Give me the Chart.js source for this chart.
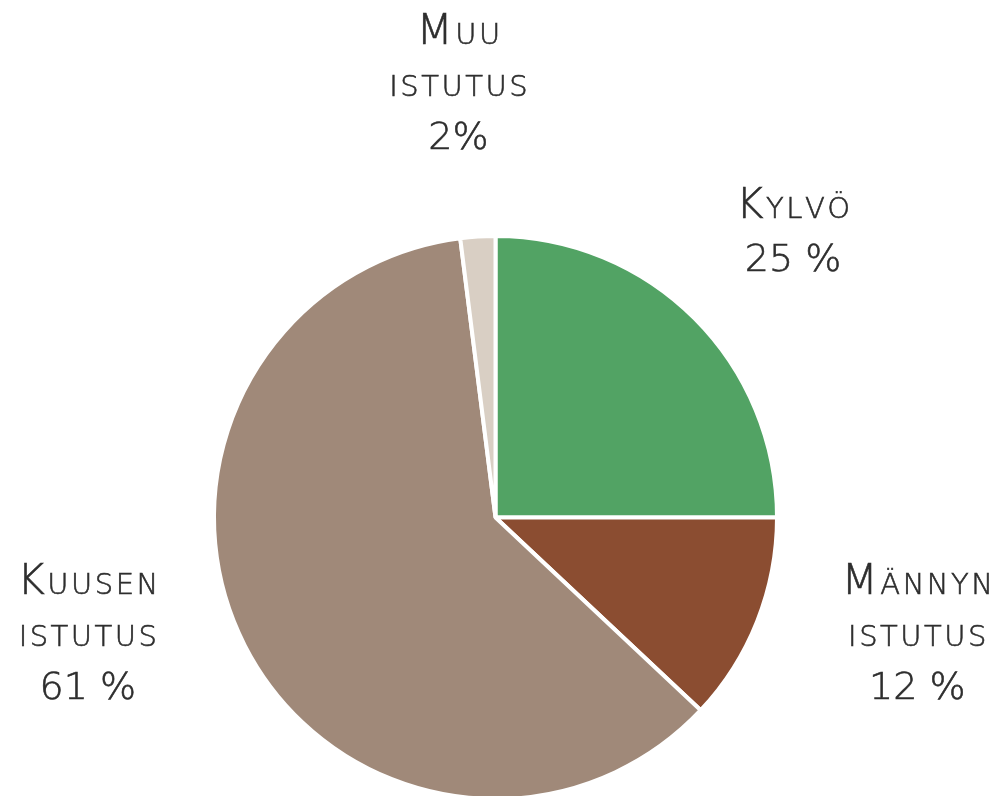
<!DOCTYPE html>
<html>
<head>
<meta charset="utf-8">
<script src="https://cdn.jsdelivr.net/npm/chart.js@4/dist/chart.umd.min.js"></script>
<style>
  html, body { margin: 0; padding: 0; background: #ffffff; overflow: hidden; }
  #wrap { width: 1001px; height: 840px; }
</style>
</head>
<body>
<div id="wrap"><canvas id="c" width="1001" height="840"></canvas></div>
<script>
// ---- data ----
const categories = ["Kylvö", "Männyn istutus", "Kuusen istutus", "Muu istutus"];
const shares = [25, 12, 61, 2];
const shareLabels = ["25 %", "12 %", "61 %", "2%"];
const sliceColors = ["#52a364", "#8b4d31", "#a08979", "#d9cfc4"];

// label anchor offsets (first-line baseline) relative to pie centre, in units of the radius
const labelOffsets = [
  [297 / 281, -299 / 281],
  [421 / 281, 76 / 281],
  [-407 / 281, 76 / 281],
  [-37 / 281, -473 / 281]
];

const FONT = "'DejaVu Sans ExtraLight', 'DejaVu Sans', sans-serif";
const WEIGHT = "200 ";

function paintText(ctx, t, x, y) {
  ctx.fillText(t, x, y);
  ctx.strokeText(t, x, y);
}

function drawSmallCaps(ctx, text, cx, baseline, bigSize, smallSize, spacing) {
  const chars = Array.from(text);
  const parts = chars.map(ch => {
    const isUpper = ch !== ch.toLowerCase();
    const size = isUpper ? bigSize : smallSize;
    const glyph = ch.toUpperCase();
    ctx.font = WEIGHT + size + "px " + FONT;
    return { glyph, size, w: ctx.measureText(glyph).width };
  });
  let total = parts.reduce((s, p) => s + p.w, 0) + spacing * (parts.length - 1);
  let x = cx - total / 2;
  parts.forEach(p => {
    ctx.font = WEIGHT + p.size + "px " + FONT;
    paintText(ctx, p.glyph, x, baseline);
    x += p.w + spacing;
  });
}

const labelPlugin = {
  id: "sliceLabels",
  afterDraw(chart) {
    const arc = chart.getDatasetMeta(0).data[0];
    if (!arc) return;
    const cx = arc.x, cy = arc.y, r = arc.outerRadius;
    const ctx = chart.ctx;
    ctx.save();
    ctx.fillStyle = "#2e2e2e";
    ctx.strokeStyle = "#2e2e2e";
    ctx.lineWidth = 0.6;
    ctx.textAlign = "left";
    ctx.textBaseline = "alphabetic";
    const step = 52 * r / 281;
    categories.forEach((name, i) => {
      const ax = cx + labelOffsets[i][0] * r;
      let by = cy + labelOffsets[i][1] * r;
      const words = name.split(" ");
      words.forEach(w => {
        drawSmallCaps(ctx, w, ax, by, 42, 29, 2.5);
        by += step;
      });
      ctx.font = WEIGHT + "38px " + FONT;
      const t = shareLabels[i];
      const tw = ctx.measureText(t).width;
      paintText(ctx, t, ax - tw / 2, by + 1);
    });
    ctx.restore();
  }
};

new Chart(document.getElementById("c"), {
  type: "pie",
  data: {
    labels: categories,
    datasets: [{
      data: shares,
      backgroundColor: sliceColors,
      borderColor: "#ffffff",
      borderWidth: 4,
      hoverOffset: 0
    }]
  },
  options: {
    responsive: false,
    animation: false,
    layout: { padding: { top: 234, bottom: 39, left: 212, right: 222 } },
    plugins: {
      legend: { display: false },
      tooltip: { enabled: false }
    }
  },
  plugins: [labelPlugin]
});
</script>
</body>
</html>
